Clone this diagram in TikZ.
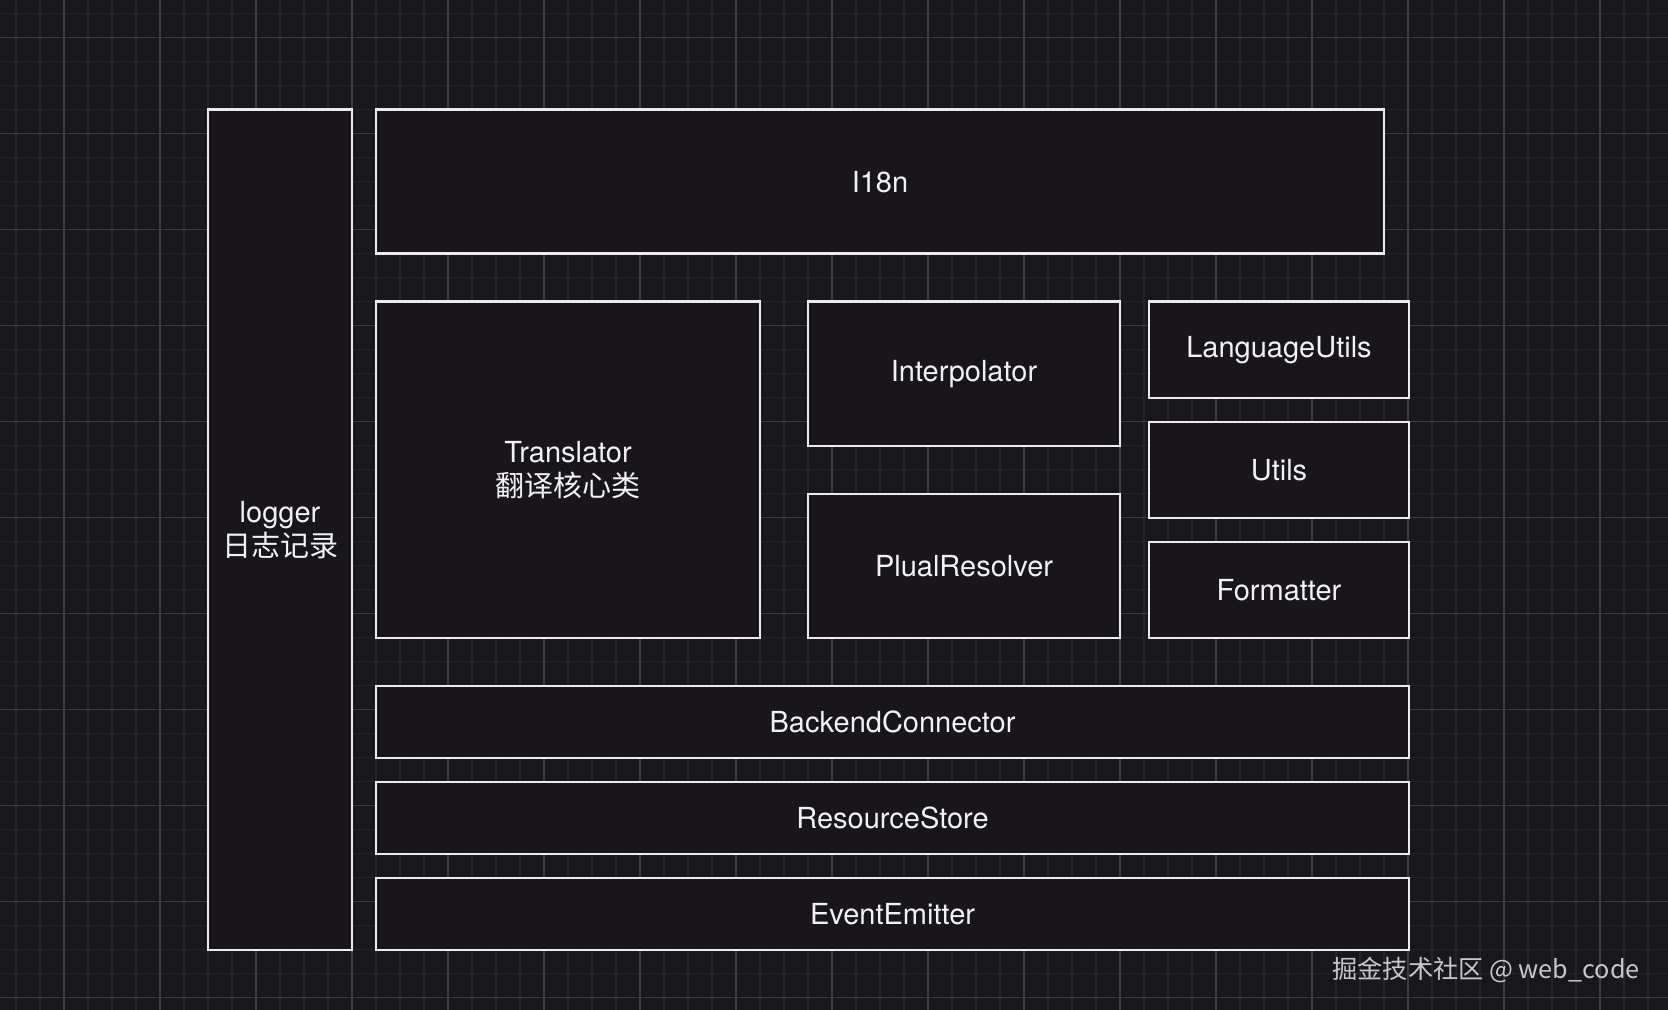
\documentclass[tikz,border=0pt]{standalone}
\usepackage{fontspec}
\setmainfont{TeX Gyre Heros}
\newfontfamily\cjk{Noto Sans CJK SC}
\usetikzlibrary{positioning}

\definecolor{canvas}{HTML}{18171C}
\definecolor{boxfill}{HTML}{18161B}
\definecolor{gridminor}{HTML}{25242A}
\definecolor{gridmajor}{HTML}{3D3C43}
\definecolor{edge}{HTML}{ECECF0}
\definecolor{labeltext}{HTML}{F2F2F4}
\definecolor{marktext}{HTML}{C8C8CC}

\begin{document}
\begin{tikzpicture}[
    x=0.5pt, y=-0.5pt,
    module/.style={rectangle, draw=edge, fill=boxfill, line width=1.2pt, inner sep=0pt, outer sep=0pt, text=labeltext, align=center, font=\fontsize{14.5}{17}\selectfont},
    minorline/.style={gridminor, line width=0.6pt},
    majorline/.style={gridmajor, line width=0.6pt}
]

% Canvas and grid
\useasboundingbox[fill=canvas] (0,0) rectangle (1668,1010);
\foreach \x in {16,40,...,1660} \draw[minorline] (\x,0) -- (\x,1010);
\foreach \y in {13.7,37.7,...,1010} \draw[minorline] (0,\y) -- (1668,\y);
\foreach \x in {64,160,...,1660} \draw[majorline] (\x,0) -- (\x,1010);
\foreach \y in {37.7,133.7,...,1010} \draw[majorline] (0,\y) -- (1668,\y);

% Left column
\node[module, minimum width=72pt, minimum height=420pt] (logger) at (280,529.7) {logger\\{\cjk 日志记录}};

% Top bar
\node[module, minimum width=504pt, minimum height=72pt] (i18n) at (880,181.7) {I18n};

% Middle block
\node[module, minimum width=192pt, minimum height=168pt] (translator) at (568,469.7) {Translator\\{\cjk 翻译核心类}};
\node[module, minimum width=156pt, minimum height=72pt] (interpolator) at (964,373.7) {Interpolator};
\node[module, minimum width=156pt, minimum height=72pt, below=24pt of interpolator] (resolver) {PlualResolver};
\node[module, minimum width=130pt, minimum height=48pt] (langutils) at (1279,349.7) {LanguageUtils};
\node[module, minimum width=130pt, minimum height=48pt, below=12pt of langutils] (utils) {Utils};
\node[module, minimum width=130pt, minimum height=48pt, below=12pt of utils] (formatter) {Formatter};

% Bottom layers
\node[module, minimum width=516.5pt, minimum height=36pt] (backend) at (892.5,721.7) {BackendConnector};
\node[module, minimum width=516.5pt, minimum height=36pt, below=12pt of backend] (store) {ResourceStore};
\node[module, minimum width=516.5pt, minimum height=36pt, below=12pt of store] (emitter) {EventEmitter};

% Watermark
\node[anchor=east, inner sep=0pt, text=marktext, font=\cjk\fontsize{12.6}{15}\selectfont] (mark) at (1640,970) {掘金技术社区 @ web\_code};

\end{tikzpicture}
\end{document}
